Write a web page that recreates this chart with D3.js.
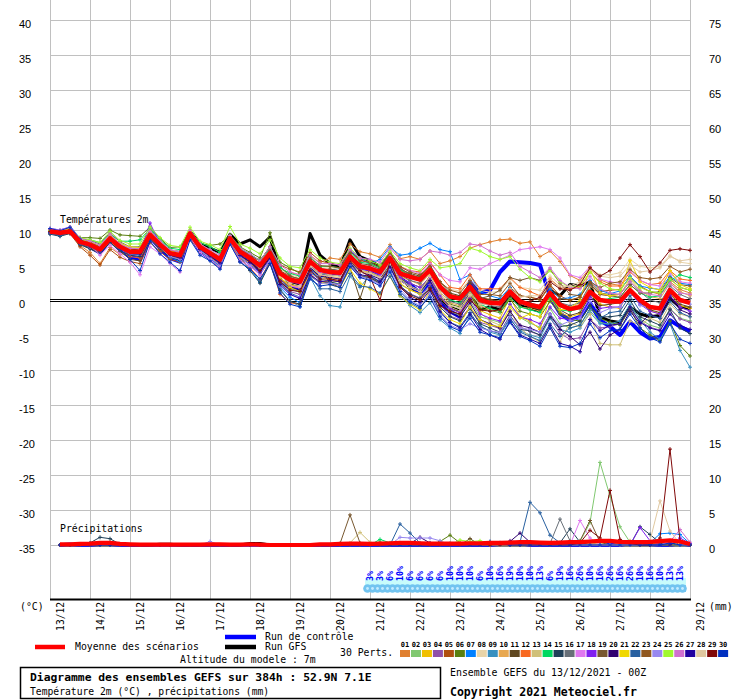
<!DOCTYPE html>
<html>
<head>
<meta charset="utf-8">
<script src="https://cdn.jsdelivr.net/npm/d3@7"></script>
<style>
    body { margin: 0; background: #ffffff; }
    svg { display: block; }
</style>
</head>
<body>
<div id="chart"></div>
<script>
const dayLabels = ["13/12", "14/12", "15/12", "16/12", "17/12", "18/12", "19/12", "20/12", "21/12",
    "22/12", "23/12", "24/12", "25/12", "26/12", "27/12", "28/12", "29/12"];
const tempTicks = [-35, -30, -25, -20, -15, -10, -5, 0, 5, 10, 15, 20, 25, 30, 35, 40];
const rainTicks = [0, 5, 10, 15, 20, 25, 30, 35, 40, 45, 50, 55, 60, 65, 70, 75];
const memberNames = ["01", "02", "03", "04", "05", "06", "07", "08", "09", "10", "11", "12", "13", "14", "15",
    "16", "17", "18", "19", "20", "21", "22", "23", "24", "25", "26", "27", "28", "29", "30"];
const memberColors = ["#e08030", "#80c870", "#f0c000", "#9050a8", "#b05010", "#5a8010", "#0080ff", "#e8d4a8",
    "#3890c0", "#e8a850", "#604820", "#f86820", "#d0c078", "#00d860", "#204058", "#687078", "#e078f0",
    "#8020f0", "#785830", "#300070", "#f0d800", "#2860a0", "#905820", "#9888f0", "#a0f830", "#d070d0",
    "#2000a0", "#e0c8a0", "#800808", "#0030c0"];
// snow probability, one label per 6h step from 21/12 00Z
const snowStart = 32;
const snowPct = [3, 3, 6, 10, 6, 6, 6, 6, 10, 10, 10, 6, 10, 16, 19, 10, 10, 13, 6, 19, 16, 26, 10, 16, 26, 16,
    26, 10, 16, 10, 13, 13];

// 2m temperature, 6-hourly, 0..384h
const t01 = [9.9,9.5,9.6,7.8, 6.8,5.2,7.5,6.5, 6.8,7.0,9.0,7.6, 6.0,5.9,9.2,7.0, 6.1,5.4,8.3,6.5, 6.4,5.5,7.2,4.4, 3.9,3.6,6.4,5.3, 6.0,5.8,8.0,6.9, 6.6,6.1,7.9,5.9, 6.2,5.8,7.0,5.2, 5.6,6.2,7.4,7.9, 8.3,8.6,8.7,8.1, 8.3,6.2,7.0,5.5, 3.5,2.8,4.6,2.9, 2.3,2.1,3.4,2.0, 1.2,0.8,2.6,1.5, 1.0];
const t02 = [9.7,9.4,9.9,8.5, 8.1,7.4,9.1,7.9, 7.1,6.8,9.6,8.0, 6.5,6.0,9.8,7.2, 6.2,5.1,8.9,6.2, 5.3,4.0,6.1,2.8, 1.6,1.1,4.6,3.0, 2.6,2.3,5.4,3.6, 3.1,2.4,5.3,2.2, 1.5,0.8,2.9,-0.1, -1.6,-2.2,-0.1,-2.4, -2.8,-3.2,-0.6,-2.5, -3.3,-3.9,-1.2,-3.4, -4.0,-3.6,-1.5,-3.2, -3.5,-3.4,-1.0,-2.7, -3.6,-4.0,-1.2,-2.6, -3.0];
const t03 = [9.9,9.8,10.2,8.6, 8.2,7.6,9.2,7.8, 7.0,7.2,9.6,8.2, 6.9,6.6,9.9,7.5, 6.4,5.3,8.4,6.4, 5.2,4.1,6.8,3.1, 2.2,1.8,4.9,3.4, 3.0,2.6,5.0,3.6, 3.2,2.6,5.4,2.4, 1.4,0.9,3.6,0.4, -1.2,-1.8,1.0,-1.5, -2.1,-2.6,0.4,-2.4, -3.0,-4.2,0.3,-1.8, -2.4,-2.0,0.9,-0.6, -1.0,-1.2,1.8,-0.3, -1.5,-2.0,1.0,-0.8, -1.2];
const t04 = [10.0,9.7,10.1,8.4, 7.6,6.8,8.4,7.2, 6.4,6.2,8.9,7.3, 6.2,5.8,9.0,7.0, 6.0,4.9,8.0,6.0, 5.0,3.6,5.8,2.6, 1.2,0.8,4.0,2.8, 2.4,2.1,4.9,3.4, 3.0,2.3,4.6,2.0, 0.9,0.3,2.2,-0.6, -2.3,-2.8,-1.0,-3.2, -3.6,-4.1,-1.6,-3.8, -4.5,-5.0,-2.5,-4.8, -5.6,-5.4,-2.8,-4.0, -3.8,-3.4,-1.4,-3.0, -3.9,-4.3,-1.3,-2.7, -3.2];
const t05 = [9.6,9.3,9.5,7.6, 6.4,5.0,7.2,6.1, 5.5,5.2,8.2,6.9, 5.8,5.4,8.7,6.9, 6.1,5.4,8.7,7.1, 6.5,5.6,7.6,5.0, 4.4,4.0,6.8,5.6, 5.2,5.0,7.0,5.8, 5.2,4.6,6.2,4.2, 3.6,3.2,4.1,2.2, 0.8,0.5,1.8,0.3, 0.1,-0.2,1.8,0.6, 0.4,0.1,2.2,0.6, -0.1,0.4,2.6,1.2, 1.4,1.5,3.2,1.9, 1.2,1.0,3.0,1.8, 1.4];
const t06 = [9.8,9.6,10.0,8.9, 8.9,8.8,10.0,9.3, 9.2,9.1,10.4,8.8, 7.5,7.6,9.8,8.1, 7.8,8.0,9.3,7.6, 6.8,6.0,9.6,5.4, 4.6,3.8,5.8,4.4, 4.0,3.6,5.6,4.0, 3.9,3.2,5.0,3.0, 2.4,1.8,3.2,0.8, -0.6,-1.0,0.8,-1.2, -1.5,-1.8,0.1,-1.6, -2.0,-2.4,-0.2,-2.0, -2.8,-3.0,-0.8,-2.6, -3.2,-3.6,-1.2,-4.0, -5.0,-5.8,-3.0,-6.5, -8.0];
const t07 = [9.5,9.2,9.6,8.2, 7.8,7.0,8.6,7.5, 6.6,6.4,9.0,7.4, 6.1,5.5,9.2,7.0, 5.8,4.8,8.4,6.0, 4.6,2.5,5.8,1.8, 0.4,-0.4,4.0,3.0, 4.2,4.6,7.0,6.0, 5.2,5.8,7.6,6.4, 6.6,7.4,8.1,7.2, 6.9,2.9,3.6,1.2, 0.6,0.2,1.8,0.0, -0.5,-0.9,1.6,0.2, 0.3,0.8,2.8,1.4, 0.9,1.3,3.4,2.0, 1.7,1.5,3.4,2.4, 2.2];
const t08 = [9.9,9.7,10.0,8.4, 8.0,7.5,9.0,7.8, 7.3,7.4,9.8,8.4, 7.2,6.9,10.0,8.0, 7.1,6.1,9.0,7.1, 6.3,5.3,7.0,4.4, 3.6,3.2,5.8,4.6, 4.6,4.4,6.6,5.0, 4.8,4.2,6.0,3.7, 3.4,3.0,4.6,2.4, 1.5,1.3,3.0,1.4, 1.1,1.2,3.0,1.8, 1.6,1.4,3.4,2.2, 1.8,2.3,4.6,3.6, 3.6,3.9,5.8,4.8, 4.6,4.8,6.4,5.4, 5.2];
const t09 = [9.7,9.4,9.8,8.2, 7.5,6.9,8.5,7.4, 6.6,6.5,9.0,7.6, 6.3,5.8,9.2,7.0, 6.0,4.8,8.2,5.8, 4.4,2.6,5.4,1.6, -0.2,-0.9,3.3,0.6, -0.8,-1.0,3.4,1.8, 3.6,2.6,4.2,0.6, -0.8,-1.8,-0.4,-2.8, -4.0,-4.8,-2.2,-3.6, -4.6,-5.0,-2.8,-4.4, -5.0,-5.4,-2.6,-4.2, -4.6,-4.0,-1.8,-3.4, -3.4,-3.0,-0.6,-2.8, -4.6,-5.6,-3.4,-7.2, -9.6];
const t10 = [10.1,9.9,10.1,8.6, 8.1,7.4,8.9,7.6, 7.0,6.9,9.4,7.9, 6.8,6.5,9.6,7.6, 6.6,5.5,8.7,6.6, 5.6,4.5,6.2,3.0, 2.0,1.7,4.8,3.6, 3.3,3.2,5.8,4.2, 4.0,3.4,5.8,3.3, 2.8,2.2,3.8,1.2, -0.4,-0.8,1.2,-0.8, -1.4,-1.6,0.4,-1.0, -1.2,-1.6,0.8,-0.8, -1.0,-0.6,2.0,0.8, 0.6,0.8,3.0,1.4, 0.5,0.2,2.4,1.2, 0.6];
const t11 = [9.6,9.3,9.8,8.0, 7.4,6.7,8.4,7.0, 5.8,5.6,8.8,7.2, 6.3,6.0,9.2,7.4, 6.8,6.0,9.0,7.2, 6.4,5.6,7.6,4.8, 3.4,3.0,5.8,4.6, 2.4,1.8,4.6,0.2, 4.6,4.2,6.6,4.4, 3.8,3.4,5.0,2.6, 1.0,0.6,2.4,0.4, 0.0,-0.2,1.6,-0.4, -1.0,-1.4,0.6,-1.4, -2.2,-1.8,0.6,-0.8, -0.6,-0.4,1.4,-0.4, -1.4,-1.8,0.8,-0.6, -1.0];
const t12 = [9.8,9.5,9.7,8.1, 7.6,6.8,8.4,7.1, 6.2,6.0,8.8,7.2, 6.4,6.0,9.1,7.3, 6.2,5.0,8.2,5.9, 4.6,3.0,5.4,0.8, -0.4,-0.6,3.8,2.4, 2.8,2.6,5.6,4.4, 4.6,4.2,6.4,4.8, 4.2,4.0,5.4,3.6, 1.8,1.6,3.6,1.6, 1.6,1.6,3.2,1.8, 1.2,0.6,3.0,1.8, 1.6,1.8,4.0,2.6, 2.0,2.0,4.0,2.8, 2.2,2.4,4.2,3.0, 2.8];
const t13 = [9.9,9.7,9.9,8.5, 8.2,7.7,9.2,8.0, 7.4,7.4,9.6,8.0, 6.6,6.3,9.4,7.6, 6.6,5.6,8.6,6.8, 5.8,4.4,6.6,3.6, 2.6,2.4,5.0,3.8, 3.6,3.4,5.8,4.2, 3.8,3.2,5.4,3.0, 2.0,1.4,3.0,0.6, -1.0,-1.6,0.6,-1.8, -3.0,-3.6,-1.6,-4.0, -5.2,-6.0,-4.0,-6.0, -3.2,-3.8,-2.0,-6.2, -6.4,-6.4,-3.0,-3.6, -2.6,-3.2,-0.6,-2.0, -2.4];
const t14 = [9.7,9.5,9.9,8.3, 8.6,8.2,9.4,8.4, 8.4,8.6,10.2,8.6, 7.4,7.2,9.8,8.2, 7.6,6.8,9.2,7.4, 6.6,5.6,7.4,4.6, 3.8,3.4,6.2,4.8, 4.8,4.6,6.8,5.4, 5.2,4.6,6.6,4.4, 3.4,2.8,4.2,1.8, 0.0,-0.4,1.4,-0.6, -1.2,-1.6,0.4,-1.0, -1.4,-1.8,0.4,-1.4, -1.6,-1.2,1.4,0.0, 0.2,0.4,2.2,1.0, 0.4,0.6,2.8,3.6, 3.2];
const t15 = [9.4,9.1,9.5,7.9, 7.3,6.6,8.2,7.0, 6.4,6.2,8.8,7.3, 6.1,5.7,9.0,6.9, 5.7,4.6,8.0,5.5, 4.2,2.4,5.2,1.4, -0.2,-0.6,3.5,2.4, 2.6,2.2,5.2,3.4, 3.2,2.4,4.6,2.0, 0.8,0.2,1.8,-1.0, -2.4,-3.0,-1.2,-3.4, -4.0,-4.6,-2.2,-4.2, -4.4,-5.0,-2.4,-3.8, -3.6,-3.0,-0.8,-2.4, -2.4,-2.2,0.0,-2.4, -3.0,-3.6,-1.4,-4.0, -4.8];
const t16 = [10.0,9.8,10.3,8.8, 8.5,8.0,9.6,8.3, 7.6,7.6,10.0,8.4, 7.0,6.8,9.9,7.9, 7.0,6.2,9.2,7.3, 6.4,5.2,7.2,4.2, 3.2,2.8,5.6,4.2, 4.2,4.0,6.4,4.8, 4.4,3.8,6.0,3.6, 2.8,2.4,4.0,1.6, -0.2,-0.6,1.4,-0.4, -0.8,-1.0,0.8,-0.6, -0.4,-0.8,1.2,-0.4, -0.8,-0.4,2.2,1.0, 0.8,0.8,2.6,1.2, 0.0,-0.4,2.0,0.8, 0.2];
const t17 = [10.2,10.0,10.4,8.7, 7.8,6.4,7.8,6.6, 5.4,3.6,7.6,6.6, 5.2,4.0,9.0,6.8, 5.8,4.6,8.0,5.6, 4.8,3.6,6.0,2.8, 2.0,1.8,5.2,4.0, 3.8,3.8,6.2,4.8, 4.8,4.4,6.4,4.6, 4.2,3.8,5.2,3.6, 2.8,2.6,4.6,4.4, 5.2,5.8,6.4,7.2, 7.4,7.6,7.2,6.0, 3.6,3.2,4.8,3.0, 2.6,2.4,4.2,2.8, 2.2,2.0,3.8,2.6, 2.4];
const t18 = [9.8,9.6,10.0,8.4, 7.9,7.3,8.8,7.6, 6.8,6.8,11.0,8.0, 6.6,6.2,9.6,7.4, 6.5,5.5,8.6,6.7, 5.8,4.7,6.6,3.6, 2.6,2.3,5.4,4.1, 3.8,3.6,6.0,4.5, 4.2,3.6,5.6,3.2, 2.4,1.8,3.2,0.6, -1.2,-1.8,0.2,-2.0, -2.6,-3.0,-0.6,-2.4, -2.8,-3.4,-1.0,-2.6, -2.8,-2.4,0.4,-1.2, -1.0,-1.0,1.2,-0.6, -1.6,-2.0,0.6,-1.0, -1.6];
const t19 = [9.9,9.7,9.9,8.3, 7.9,7.2,8.7,7.5, 6.9,6.7,9.2,7.7, 6.6,6.3,9.3,7.4, 6.7,5.9,8.8,7.0, 6.2,5.0,6.8,3.8, 2.8,2.6,5.6,4.4, 4.4,4.2,6.6,5.2, 5.0,4.4,6.8,4.6, 3.6,3.2,4.4,2.0, 0.6,0.2,2.0,0.2, 0.6,1.4,3.2,2.8, 3.2,2.8,4.4,2.4, 0.8,0.6,2.4,0.8, 0.6,0.4,2.2,1.0, 1.0,1.2,3.2,2.2, 2.0];
const t20 = [9.6,9.4,9.7,8.0, 7.7,7.0,8.6,7.4, 6.6,6.5,9.1,7.6, 6.4,6.0,9.3,7.2, 6.3,5.2,8.5,6.4, 5.4,4.2,6.2,3.0, 1.8,1.4,4.6,3.4, 3.2,3.0,5.6,4.0, 3.6,3.0,5.2,2.8, 1.8,1.2,2.8,0.0, -1.8,-2.4,-0.4,-2.8, -3.4,-4.0,-1.6,-3.6, -4.0,-4.6,-2.0,-4.2, -5.2,-6.4,-4.6,-7.0, -5.0,-4.2,-1.6,-3.4, -2.0,-2.6,0.4,-1.4, -2.0];
const t21 = [10.0,9.8,10.2,8.6, 8.3,7.8,9.3,8.1, 7.6,7.5,9.8,8.2, 7.0,6.7,9.8,7.9, 6.9,6.0,8.9,7.0, 6.0,4.8,6.4,3.2, 1.8,1.2,3.6,2.6, 2.2,1.8,4.4,2.4, 1.6,0.8,3.4,0.6, -0.6,-1.4,1.4,-1.4, -2.8,-3.4,-1.0,-2.8, -3.6,-3.8,-1.0,-2.6, -2.0,-2.4,0.8,-1.4, -1.2,0.0,4.6,1.0, 0.6,0.8,5.6,2.6, 1.8,1.4,4.2,2.2, 1.6];
const t22 = [9.5,9.2,9.6,8.0, 7.6,6.9,8.6,7.4, 6.7,6.6,9.2,7.7, 6.5,6.1,9.5,7.4, 6.4,5.4,8.6,6.6, 5.6,4.4,6.2,2.4, 1.0,0.4,3.4,1.6, 1.6,1.2,3.8,2.0, 1.8,1.0,3.4,0.8, -0.4,-1.2,0.8,-1.8, -3.2,-3.8,-1.8,-3.8, -4.4,-4.8,-2.6,-4.6, -5.2,-5.8,-3.4,-5.2, -4.0,-3.6,-1.2,-2.6, -1.8,-1.6,0.6,-1.6, -2.2,-2.6,-0.2,-1.8, -2.4];
const t23 = [10.0,9.7,10.0,8.5, 8.2,7.6,9.0,7.8, 7.2,7.1,9.5,8.1, 6.8,6.5,9.5,7.7, 6.8,6.0,9.0,7.1, 6.3,5.2,7.1,4.2, 3.4,3.0,6.0,4.9, 4.8,4.6,7.0,5.6, 5.4,4.8,6.8,4.8, 4.0,3.6,4.8,2.6, 1.4,1.0,2.8,0.8, 0.8,0.6,2.4,0.6, 0.4,0.0,2.0,0.2, 0.0,0.4,2.6,1.8, 2.4,2.6,4.4,3.2, 3.0,3.2,4.8,4.0, 4.4];
const t24 = [9.7,9.5,9.8,8.2, 7.6,7.0,8.6,7.4, 6.6,6.6,9.2,7.6, 6.2,5.8,9.4,7.1, 6.0,5.0,8.4,6.2, 5.0,3.8,5.6,2.0, 0.8,0.4,3.6,2.4, 2.4,2.2,5.0,3.4, 3.0,2.2,4.4,1.6, 0.0,-0.8,0.8,-2.2, -3.6,-4.2,-3.4,-4.0, -4.4,-4.6,-2.4,-4.0, -4.2,-4.6,-2.0,-3.6, -3.0,-2.6,-0.2,-1.8, -1.2,-1.0,1.2,-0.8, -1.0,-1.4,1.2,-0.2, -0.6];
const t25 = [9.9,9.8,10.3,8.9, 8.6,8.2,9.8,8.5, 8.0,8.0,10.4,8.9, 7.8,7.6,10.4,8.4, 7.9,7.2,10.5,8.0, 7.4,6.6,8.6,6.0, 4.8,4.6,7.2,6.0, 5.4,5.2,7.4,6.0, 5.6,5.0,7.0,5.2, 4.6,4.2,5.8,4.6, 4.8,5.2,7.4,7.0, 6.2,5.8,6.2,4.4, 3.2,2.6,4.2,2.6, 1.8,2.0,4.0,2.4, 1.6,1.4,3.2,1.8, 1.2,1.0,3.0,1.8, 1.4];
const t26 = [10.1,9.9,10.4,8.8, 8.4,7.8,9.4,8.0, 7.4,7.3,9.8,8.4, 7.2,6.8,9.9,8.0, 7.2,6.4,9.2,7.4, 6.6,5.6,7.6,5.0, 4.0,3.6,6.4,5.2, 5.2,5.0,7.2,6.0, 5.8,5.4,7.4,5.8, 5.6,5.8,7.0,6.8, 6.4,6.8,8.0,7.8, 7.0,6.4,6.8,4.8, 4.0,3.2,4.6,2.8, 1.8,1.6,3.4,1.6, 1.0,0.8,2.6,1.2, 0.8,0.6,2.4,1.0, 0.8];
const t27 = [9.7,9.5,10.0,8.4, 7.7,7.1,8.8,7.6, 6.8,6.6,9.3,7.7, 6.5,6.1,9.5,7.3, 6.3,5.3,8.6,6.4, 5.4,4.0,6.0,2.2, 0.8,0.2,3.6,2.6, 2.8,2.6,5.4,3.6, 3.4,2.6,4.8,2.0, 0.4,-0.4,1.4,-1.6, -3.2,-4.0,-2.0,-4.2, -5.0,-5.6,-3.0,-5.0, -5.6,-6.2,-3.6,-6.2, -6.6,-7.4,-2.8,-4.4, -3.6,-3.4,-1.0,-3.2, -4.0,-4.4,-2.0,-3.6, -4.2];
const t28 = [9.8,9.6,9.8,8.3, 8.0,7.4,8.9,7.7, 7.0,6.9,9.3,7.9, 6.7,6.4,9.4,7.6, 6.6,5.7,8.6,6.7, 5.8,4.6,6.4,3.4, 2.4,2.0,4.8,3.6, 3.4,3.2,5.6,4.0, 3.8,3.2,5.2,2.8, 1.8,1.2,3.4,1.0, -0.8,-1.2,0.8,-0.6, -0.6,-0.4,1.6,0.4, 0.6,0.6,2.8,1.8, 2.0,2.6,4.4,3.4, 3.2,3.4,5.0,4.0, 4.2,4.6,6.2,5.6, 5.8];
const t29 = [9.8,9.5,9.8,8.2, 7.8,7.2,8.8,7.6, 6.8,6.7,9.2,7.7, 6.6,6.2,9.4,7.4, 6.5,5.6,8.7,6.7, 5.6,4.2,6.2,2.6, 1.4,1.2,4.2,3.0, 3.0,2.8,5.6,4.2, 3.3,0.0,5.6,1.8, 0.6,0.0,1.6,-0.8, -1.6,-2.0,0.0,-1.4, -1.6,-1.4,0.6,-0.6, -0.2,0.4,2.6,1.6, 1.4,2.2,4.6,3.4, 4.2,6.0,7.9,6.2, 4.0,5.3,7.1,7.3, 7.1];
const t30 = [10.2,9.9,10.4,8.7, 7.8,6.9,8.5,7.3, 5.8,4.2,8.4,6.6, 5.4,4.2,8.6,6.4, 5.6,4.4,8.0,5.4, 4.4,3.0,5.2,1.0, -0.6,-1.0,3.0,2.0, 2.2,1.8,4.8,3.2, 2.8,2.0,4.0,1.2, -0.2,-1.0,0.4,-2.4, -3.8,-4.4,-2.6,-4.6, -5.0,-5.4,-3.2,-5.2, -5.8,-6.6,-4.0,-6.6, -6.8,-6.2,-3.4,-5.4, -4.4,-4.2,-2.0,-4.0, -5.4,-6.0,-3.4,-5.6, -6.2];
const tempControl = [10.0,9.8,10.2,8.4, 7.6,6.8,8.6,7.2, 6.2,5.8,9.0,7.4, 6.0,5.5,9.4,7.0, 6.0,5.4,8.6,6.4, 5.4,4.2,6.2,2.8, 1.8,1.4,4.6,3.6, 3.8,3.8,6.0,4.6, 4.4,3.6,5.6,3.0, 2.2,1.0,2.6,-0.4, -1.6,-2.4,2.6,1.0, 1.4,4.0,5.5,5.4, 5.3,5.0,0.5,-1.9, -2.9,-2.4,-0.4,-2.9, -3.8,-5.0,-3.1,-4.6, -5.5,-5.3,-2.9,-3.8, -4.5];
const tempGfs = [10.0,9.8,10.0,8.4, 8.0,7.4,9.0,7.8, 7.2,7.2,9.6,8.2, 7.0,6.8,9.8,8.0, 7.4,6.8,9.4,8.0, 8.6,7.6,9.0,4.0, 2.4,2.2,9.5,6.4, 5.2,4.6,8.6,6.2, 5.6,4.8,6.6,3.4, 1.8,1.0,3.2,0.2, -1.0,-1.6,0.8,-1.4, -1.0,-1.4,0.6,-0.8, -1.2,-1.6,1.4,0.6, 2.2,2.0,2.6,-2.4, -3.0,-3.2,-1.0,-2.0, -2.4,-2.2,0.2,-1.0, -1.2];
const tempMean = [9.8,9.6,9.8,8.3, 7.9,7.2,8.8,7.6, 6.9,6.9,9.3,7.9, 6.7,6.4,9.5,7.6, 6.7,5.8,8.8,6.9, 6.0,4.9,6.7,3.8, 2.9,2.6,5.5,4.3, 4.0,3.9,6.2,4.8, 4.5,4.0,6.0,3.8, 3.3,2.9,4.3,1.9, 0.5,0.2,1.9,0.0, -0.4,-0.5,1.2,-0.2, -0.7,-1.0,1.0,-0.7, -1.3,-1.0,1.2,0.0, -0.2,-0.2,1.4,0.0, -1.0,-1.2,1.4,0.0, -0.4];

// 6h precipitation (mm), 6h..384h
const p01 = [0,0,0,0,0.2,0.1,0,0, 0,0,0,0,0,0,0,0, 0,0,0,0,0,0,0,0, 0,0,0,0,0,0,0,0, 0,0,0,0,0,0,0,0, 0.2,0,0,0,0,0,0,0, 0,0,0,0,0,0,0,0, 0.3,0.6,0.2,0,0,0,0,0];
const p02 = [0,0,0,0,0.1,0.2,0,0, 0,0,0,0,0,0,0,0, 0,0,0,0,0,0,0,0, 0,0,0,0,0,0,0,0, 0,0,0,0.2,0,0,0,0, 0,0,0.3,0.4,0.2,0,0,0, 0,0,0,0,0.5,3.2,11.8,7.0, 2.6,0.4,0,0,0,0,0,0];
const p03 = [0,0,0,0,0.2,0,0,0, 0,0,0,0,0,0,0,0, 0,0,0,0,0,0,0,0, 0,0,0,0,0,0,0,0, 0,0,0,0,0,0,0.3,0.2, 0.2,0,0,0,0,0,0,0, 0,0,0,0,0,0.4,0.2,0, 0,0,0,0.3,0.5,0,0,0];
const p04 = [0,0,0,0.2,0.1,0,0,0, 0,0,0,0,0,0,0,0, 0,0,0,0,0,0,0,0, 0,0,0,0,0,0,0,0, 0,0,0,0,0,0,0,0, 0,0,0,0,0,0.6,0.4,0.2, 0,0,0,0,0,0,0,0, 0,0,0,0,0,0.3,0.4,0];
const p05 = [0,0,0,0,0,0,0,0, 0,0,0,0,0,0,0,0, 0,0,0,0,0,0,0,0, 0,0,0,0,0,0,0,0, 0,0,0,0,0,0,0.2,0, 0,0,0,0,0,0,0,0, 0,0,0,0.4,0,0,0,0, 0,0,0.3,0,0,0,0,0];
const p06 = [0,0,0,0,0,0,0,0, 0,0,0,0,0,0,0,0, 0,0,0,0,0,0,0,0, 0,0,0,0,0,0,0,0, 0.4,0,0,0,0,0,0.5,1.4, 0.3,0,0,0,0,0,0,0, 0,0,0,0,0,0,0.3,0, 0,0,0,0,0,0,0.2,0];
const p07 = [0,0,0,0,0,0,0,0, 0,0,0,0,0,0,0,0, 0,0,0,0,0,0,0,0, 0,0,0,0,0,0,0,0, 0,0,0,0,0,0.2,0.3,0.2, 0,0,0.2,0,0,0,0,0, 0,0,0,0,0,0,0,0, 0,0,0,0.3,1.6,1.7,1.5,0.2];
const p08 = [0,0,0,0,0,0,0,0, 0,0,0,0,0,0,0,0, 0,0,0,0,0,0,0,0, 0,0,0,0,0,0,0,0, 0,0,0,0,0,0,0,0, 0,0,0,0,0,0,0,0, 0,0,0,0,0,0,0.3,0, 0,0,0,0,0,0.4,0,0];
const p09 = [0,0,0,0,0,0,0,0, 0,0,0,0,0,0,0,0, 0,0,0,0,0,0,0,0, 0,0,0,0,0,0,0,0, 0,0,0,0,0,0,0,0, 0,0,0,0,0,0,0.3,0.2, 0.2,0,0,0,0,0,0,0, 0,0,0,0,0,0,0.4,0];
const p10 = [0,0,0,0,0,0,0,0, 0,0,0,0,0,0,0,0, 0,0,0,0,0,0,0,0, 0,0,0,0,0,0,0,0, 0,0,0,0,0,0,0.2,0, 0,0,0,0,0,0,0,0, 0,0,0,0,0,0,0,0, 0,0,0,0,0,0,0.3,0];
const p11 = [0,0,0,0,0,0,0,0, 0,0,0,0,0,0,0,0, 0,0,0,0,0,0,0,0, 0,0,0,0,0,0,0,0, 0,0,0,0,0,0,0,0, 0,0.9,0,0,0,0,0.3,0, 0,0,0,0,0,0,0,0, 0,0,0,0,0,0,0,0];
const p12 = [0,0,0,0,0,0,0,0, 0,0,0,0,0,0,0,0, 0,0,0,0,0,0,0,0, 0,0,0,0,0,0,0,0, 0,0,0,0,0,0,0,0, 0,0,0,0,0,0,0,0, 0,0,0,0,0.2,0,0,0, 0,0,0,0,0.3,0,0,0];
const p13 = [0,0,0,0,0,0.4,0,0, 0,0,0,0,0,0,0,0, 0,0,0,0,0,0,0,0, 0,0,0,0,0,0.3,1.8,0.4, 0,0,0,0,0,0,0,0, 0,0,0,0,0,0,0,0, 0,0,0,0,0,0.3,0,0, 0,0,0,0,0,0,0,0];
const p14 = [0,0,0,0,0,0,0,0, 0,0,0,0,0,0,0,0, 0,0,0,0,0,0,0,0, 0,0,0,0,0,0,0,0, 0.8,0.3,0.2,0.2,0,0,0,0, 0,0,0,0,0,0,0,0, 0,0,0,0,0,0,0,0, 0,0,0,0,0,0,0,0];
const p15 = [0,0,0,0.3,1.1,0.9,0.1,0, 0,0,0,0,0,0,0,0, 0,0,0,0,0,0,0,0, 0,0,0,0,0,0,0,0, 0,0,0,0,0,0,0,0, 0,0,0,0,0,0,0,0, 0,0,0.3,2.3,0.4,0,0,0, 0,0,2.6,1.5,0.3,0,0,0];
const p16 = [0,0,0,0,0,0,0,0, 0,0,0,0,0,0,0,0, 0,0,0,0,0,0,0,0, 0,0,0,0,0,0,0,0, 0,0,0,0,0,0,0,0, 0,0,0,0,0,0,0,0, 0,0.2,3.7,0.6,0,0,0,0, 0,0,0,0,0,0,0,0];
const p17 = [0,0,0,0,0,0,0,0, 0,0,0,0,0,0,0,0, 0,0,0,0,0,0,0,0, 0,0,0,0,0,0,0,0, 0,0,0,0,0,0,0,0, 0,0,0,0,0,0,0,0.3, 0,0,0,0,3.5,1.0,0,0, 0,0,0,0,0,0,0,0];
const p18 = [0,0,0,0,0,0,0,0, 0,0,0,0,0,0,0,0, 0,0,0,0,0,0,0,0, 0,0,0,0,0,0,0,0, 0,0,0,0,0,0,0,0, 0,0,0,0,0.3,0,0,0, 0,0,0,0,0,0,0,0, 0,0,2.5,0.6,0,0,1.0,0.2];
const p19 = [0,0,0,0,0,0,0,0, 0,0,0,0,0,0,0,0, 0,0,0,0,0,0,0,0, 0,0,0,0,0.2,4.3,0.3,0, 0,0,0,0,0,0,0,0, 0,0,0,0,0,0,0,0, 0,0,0,0,0.6,3.5,0.4,0, 0,0,0,0,0,0,0,0];
const p20 = [0,0,0,0,0,0,0,0, 0,0,0,0,0,0,0,0, 0,0,0,0,0,0,0,0, 0,0,0,0,0,0,0,0, 0,0,0.3,0.2,1.1,0.3,0,0, 0,0,0,0,0.3,0.5,1.7,0.4, 0,0,0,0,0,0,0,0, 0,0,0,0,0,0,0,0];
const p21 = [0,0,0,0,0,0,0,0, 0,0,0,0,0,0,0,0, 0,0,0,0,0,0,0,0, 0,0,0,0,0,0,0,0, 0,0,0,0,0,0,0,0, 0,0,0,0.2,0,0,0,0, 0,0,0,0,0,0,0,0, 0,0,0,0.3,0,0,0,0];
const p22 = [0,0,0,0,0,0,0,0, 0,0,0,0,0,0,0,0, 0,0,0,0,0,0,0,0, 0,0,0,0,0,0,0,0, 0,0,3.0,1.7,0.3,0,0,0, 0,0,0,0,0,0,0.4,6.1, 4.6,1.4,0.3,0,0,0,0,0, 0,0,0,0,0,0,0,0];
const p23 = [0,0,0,0,0,0,0,0, 0,0,0,0,0,0,0,0, 0,0,0,0,0,0,0,0, 0,0,0,0,0,0,0,0, 0,0,0,0,0,0,0,0, 0,0,0,0,0,0,0,0, 0,0,0,0,0,0,0,0, 0,0,0,0,0,0,0.3,0];
const p24 = [0,0,0,0,0,0,0,0, 0,0,0,0,0,0,0,0.5, 0,0,0,0,0,0,0,0, 0,0,0,0,0,0,0,0, 0,0,1.1,1.0,1.0,1.0,0.6,0, 0,0,0,0,0,0,0,0, 0,0,0,0,0,0,0,0, 0,0,0,0,0,0.4,0,0];
const p25 = [0,0,0,0,0,0,0,0, 0,0,0,0,0,0,0,0, 0,0,0,0,0,0,0,0, 0,0,0,0,0,0,0,0, 0,0,0,0,0,0,0,0, 0.7,0.5,0.6,0.3,0,0,0,0, 0,0,0,0,0,0,0,0, 0,0,0,0,0,0,0.5,0];
const p26 = [0,0,0,0,0,0,0,0, 0,0,0,0,0,0,0,0, 0,0,0,0,0,0,0,0, 0,0,0,0,0,0,0,0, 0,0,0,0,0,0,0,0, 0,0,0,0,0,0,0,0, 0,0,0,0,0,0,0,0, 0,0,0,0,0,0.5,2.2,0.4];
const p27 = [0,0,0,0,0,0,0,0, 0,0,0,0,0,0,0,0, 0,0,0,0,0,0,0,0, 0,0,0,0,0,0,0,0, 0,0,0,0,0,0,0,0, 0,0,0,0,0.2,0,0,0, 0,0,0,0,0,0,0,0, 0,0,0,0,0,0,0.6,0];
const p28 = [0,0,0,0,0,0,0,0, 0,0,0,0,0,0,0,0, 0,0,0,0,0,0,0,0, 0,0,0,0,0,0,0,0, 0,0,0,0,0,0,0,0, 0,0,0,0,0,0,0,0, 0,0,0,0,0,0,0,0, 0,0,0,0.6,6.3,2.0,0.2,0];
const p29 = [0,0,0,0,0,0,0,0, 0,0,0,0,0,0,0,0, 0,0,0,0,0,0,0,0, 0,0,0,0,0,0,0,0, 0,0,0,0,0,0,0,0, 0,0,0,0,0,0,0,0, 0,0,0,0,0.3,2.1,1.0,7.8, 0.8,0.2,0,0,1.0,13.7,0.6,0];
const p30 = [0,0,0,0,0,0,0,0, 0,0,0,0,0,0,0,0, 0,0,0,0,0,0,0,0, 0,0,0,0,0,0,0,0, 0,0,0,0,0,0,0,0, 0,0,0,0.5,0.2,0,0,0, 0,0,0,0,0,0,0,0, 0,0,0,0,0,0.3,0,0];
const rainControl = [0,0.1,0,0,0.1,0.1,0,0, 0,0,0,0,0,0,0,0, 0,0,0,0,0,0,0,0, 0,0,0,0,0,0,0,0, 0,0,0,0,0,0,0,0, 0,0,0,0,0.1,0.2,0.2,0, 0,0,0,0,0,0,0,0, 0,0.2,0.2,0.1,0,0,0.2,0];
const rainGfs = [0,0,0,0,0,0,0,0, 0,0,0.1,0.1,0,0,0,0, 0,0,0,0.2,0.2,0,0,0, 0,0,0,0,0,0,0,0, 0,0,0,0,0,0,0,0, 0,0,0,0,0,0,0,0, 0,0,0,0,0,0,0,0, 0,0,0,0,0,0,0,0];
const rainMean = [0.1,0.1,0.15,0.2,0.3,0.3,0.15,0.1, 0.05,0.05,0.05,0.05,0.05,0.05,0.05,0.1, 0.1,0.05,0.05,0.1,0.05,0,0,0, 0,0,0.1,0.1,0.15,0.2,0.2,0.15, 0.2,0.25,0.3,0.3,0.25,0.2,0.2,0.2, 0.2,0.25,0.25,0.3,0.3,0.35,0.4,0.4, 0.35,0.3,0.35,0.4,0.4,0.5,0.6,0.6, 0.45,0.4,0.4,0.45,0.55,0.65,0.5,0.15];

const tempMembers = [t01, t02, t03, t04, t05, t06, t07, t08, t09, t10, t11, t12, t13, t14, t15,
    t16, t17, t18, t19, t20, t21, t22, t23, t24, t25, t26, t27, t28, t29, t30];
const rainMembers = [p01, p02, p03, p04, p05, p06, p07, p08, p09, p10, p11, p12, p13, p14, p15,
    p16, p17, p18, p19, p20, p21, p22, p23, p24, p25, p26, p27, p28, p29, p30];

const MONO = "'DejaVu Sans Mono', monospace";

class EnsemblePlume {
    constructor(_config) {
        this.config = _config;
        this.initVis();
    }

    initVis() {
        const vis = this;

        vis.config.width = 740;
        vis.config.height = 700;
        vis.config.plot = {left: 50, right: 690, bottom: 599};

        vis.svg = d3.select(vis.config.parentElement)
            .append("svg")
            .attr("width", vis.config.width)
            .attr("height", vis.config.height);

        // one step = 6h, 64 steps = 384h
        vis.x = d3.scaleLinear().domain([0, 64]).range([vis.config.plot.left, vis.config.plot.right]);
        vis.yTemp = d3.scaleLinear().domain([-35, 40]).range([545, 20]);
        vis.yRain = d3.scaleLinear().domain([0, 75]).range([545, 20]);

        vis.drawFrame();
        vis.updateVis();
        vis.drawLegend();
    }

    drawFrame() {
        const vis = this;
        const p = vis.config.plot;
        const dayTicks = dayLabels.map((d, i) => i * 4);

        vis.svg.append("g")
            .attr("transform", `translate(0,${p.bottom})`)
            .call(d3.axisBottom(vis.x).tickValues(dayTicks).tickSize(-p.bottom).tickFormat(""))
            .call(g => g.select(".domain").remove())
            .call(g => g.selectAll("line").attr("stroke", "#c0c0c0"));

        vis.svg.append("g")
            .attr("transform", `translate(${p.left},0)`)
            .call(d3.axisLeft(vis.yTemp).tickValues(tempTicks.filter(t => t !== 0))
                .tickSize(-(p.right - p.left)).tickFormat(""))
            .call(g => g.select(".domain").remove())
            .call(g => g.selectAll("line").attr("stroke", "#c0c0c0"));

        // double zero line
        [-0.5, 1.5].forEach(off => {
            vis.svg.append("line")
                .attr("x1", p.left).attr("x2", p.right)
                .attr("y1", vis.yTemp(0) + off).attr("y2", vis.yTemp(0) + off)
                .attr("stroke", "#000").attr("stroke-width", 1);
        });

        vis.svg.append("line")
            .attr("x1", p.left).attr("x2", p.right + 1)
            .attr("y1", p.bottom + 0.5).attr("y2", p.bottom + 0.5)
            .attr("stroke", "#000").attr("stroke-width", 2);

        vis.svg.append("g")
            .attr("transform", "translate(19,0)")
            .call(d3.axisLeft(vis.yTemp).tickValues(tempTicks).tickSize(0).tickFormat(d => String(d)))
            .attr("font-family", "'Liberation Sans', Arial, sans-serif")
            .attr("font-size", 11)
            .call(g => g.select(".domain").remove())
            .call(g => g.selectAll("text")
                .attr("x", 0).attr("dy", null).attr("y", 7)
                .attr("text-anchor", "start").attr("fill", "#000"));

        vis.svg.append("g")
            .attr("transform", "translate(709,0)")
            .call(d3.axisRight(vis.yRain).tickValues(rainTicks).tickSize(0).tickFormat(d => String(d)))
            .attr("font-family", "'Liberation Sans', Arial, sans-serif")
            .attr("font-size", 11)
            .call(g => g.select(".domain").remove())
            .call(g => g.selectAll("text")
                .attr("x", 0).attr("dy", null).attr("y", 7)
                .attr("text-anchor", "start").attr("fill", "#000"));

        vis.svg.append("g")
            .attr("transform", "translate(0,602)")
            .call(d3.axisBottom(vis.x).tickValues(dayTicks).tickSize(0).tickFormat((d, i) => dayLabels[i]))
            .attr("font-family", MONO)
            .attr("font-size", 9.6)
            .call(g => g.select(".domain").remove())
            .call(g => g.selectAll("text")
                .attr("transform", "rotate(-90)")
                .attr("text-anchor", "end")
                .attr("x", 0).attr("y", 13).attr("dy", null)
                .attr("fill", "#000"));

        vis.svg.append("text").attr("x", 20).attr("y", 610)
            .attr("font-family", MONO).attr("font-size", 9.8).text("(°C)");
        vis.svg.append("text").attr("x", 709).attr("y", 610)
            .attr("font-family", MONO).attr("font-size", 9.8).text("(mm)");

        vis.svg.append("text").attr("x", 60).attr("y", 223)
            .attr("font-family", MONO).attr("font-size", 9.8).text("Températures 2m");
        vis.svg.append("text").attr("x", 60).attr("y", 532)
            .attr("font-family", MONO).attr("font-size", 9.8).text("Précipitations");

        // snow strip
        const x0 = vis.x(snowStart) - 5;
        const x1 = vis.x(snowStart + snowPct.length - 1) + 6;
        const strip = vis.svg.append("g");
        strip.append("rect")
            .attr("x", x0).attr("y", 578).attr("width", x1 - x0).attr("height", 7)
            .attr("fill", "#c8fcfc");
        strip.append("rect")
            .attr("x", x0).attr("y", 585).attr("width", x1 - x0).attr("height", 7)
            .attr("fill", "#7ccaf2");
        const blobs = d3.range(x0 + 2.5, x1, 5);
        strip.selectAll("circle.blob")
            .data(blobs)
            .join("circle")
            .attr("class", "blob")
            .attr("cx", d => d).attr("cy", 588.5).attr("r", 4.3)
            .attr("fill", "#72c4f0");
        strip.selectAll("circle.flake")
            .data(blobs)
            .join("circle")
            .attr("class", "flake")
            .attr("cx", d => d).attr("cy", 588.5).attr("r", 1.4)
            .attr("fill", "#c4ecff");

        vis.svg.append("g")
            .selectAll("text")
            .data(snowPct)
            .join("text")
            .attr("transform", (d, i) => `translate(${vis.x(snowStart + i) + 3},581) rotate(-90)`)
            .attr("font-family", MONO)
            .attr("font-size", 8.4)
            .attr("font-weight", "bold")
            .attr("fill", "#0000ff")
            .text(d => d + "%");
    }

    crosses(points) {
        return points.map(([px, py]) => `M${px - 2},${py}H${px + 2}M${px},${py - 2}V${py + 2}`).join("");
    }

    updateVis() {
        const vis = this;

        const tempLine = d3.line().x((d, i) => vis.x(i)).y(d => vis.yTemp(d));
        const rainLine = d3.line().x((d, i) => vis.x(i + 1)).y(d => vis.yRain(d));

        const drawMembers = (series, line, yScale, offset) => {
            const g = vis.svg.append("g");
            series.forEach((values, k) => {
                g.append("path")
                    .attr("d", line(values))
                    .attr("fill", "none")
                    .attr("stroke", memberColors[k])
                    .attr("stroke-width", 1);
                g.append("path")
                    .attr("d", vis.crosses(values.map((v, i) => [vis.x(i + offset), yScale(v)])))
                    .attr("stroke", memberColors[k])
                    .attr("stroke-width", 1);
            });
        };

        const drawThick = (values, line, color, width) => {
            vis.svg.append("path")
                .attr("d", line(values))
                .attr("fill", "none")
                .attr("stroke", color)
                .attr("stroke-width", width)
                .attr("stroke-linejoin", "round");
        };

        // control and GFS sit under the members, the mean on top
        drawThick(tempGfs, tempLine, "#000000", 3);
        drawThick(tempControl, tempLine, "#0000ff", 4);
        drawMembers(tempMembers, tempLine, vis.yTemp, 0);
        drawThick(tempMean, tempLine, "#ff0000", 4.5);

        drawThick(rainGfs, rainLine, "#000000", 3);
        drawThick(rainControl, rainLine, "#0000ff", 3.5);
        drawMembers(rainMembers, rainLine, vis.yRain, 1);
        drawThick(rainMean, rainLine, "#ff0000", 4.2);
    }

    drawLegend() {
        const vis = this;
        const txt = (x, y, s, size, bold) => vis.svg.append("text")
            .attr("x", x).attr("y", y)
            .attr("font-family", MONO)
            .attr("font-size", size)
            .attr("font-weight", bold ? "bold" : "normal")
            .attr("fill", "#000")
            .text(s);

        vis.svg.append("line").attr("x1", 35).attr("x2", 65).attr("y1", 647).attr("y2", 647)
            .attr("stroke", "#ff0000").attr("stroke-width", 4.5);
        txt(75, 650, "Moyenne des scénarios", 9.8);

        vis.svg.append("line").attr("x1", 225).attr("x2", 256).attr("y1", 637).attr("y2", 637)
            .attr("stroke", "#0000ff").attr("stroke-width", 4.5);
        vis.svg.append("line").attr("x1", 225).attr("x2", 256).attr("y1", 647).attr("y2", 647)
            .attr("stroke", "#000000").attr("stroke-width", 4.5);
        txt(265, 640, "Run de contrôle", 9.8);
        txt(265, 650, "Run GFS", 9.8);
        txt(340, 656, "30 Perts.", 9.8);
        txt(180, 663, "Altitude du modele : 7m", 9.8);

        const keys = vis.svg.append("g");
        keys.selectAll("rect")
            .data(memberNames)
            .join("rect")
            .attr("x", (d, i) => 400 + i * 10.97)
            .attr("y", 650)
            .attr("width", 10)
            .attr("height", 7)
            .attr("fill", (d, i) => memberColors[i]);
        keys.selectAll("text")
            .data(memberNames)
            .join("text")
            .attr("x", (d, i) => 405 + i * 10.97)
            .attr("y", 646.5)
            .attr("text-anchor", "middle")
            .attr("font-family", MONO)
            .attr("font-size", 7)
            .attr("font-weight", "bold")
            .text(d => d);

        vis.svg.append("rect")
            .attr("x", 20.5).attr("y", 667.5).attr("width", 420).attr("height", 31)
            .attr("fill", "none").attr("stroke", "#000").attr("stroke-width", 1.5);
        txt(30, 681, "Diagramme des ensembles GEFS sur 384h : 52.9N 7.1E", 11.35, true);
        txt(30, 695, "Température 2m (°C) , précipitations (mm)", 9.7);

        txt(450, 676, "Ensemble GEFS du 13/12/2021 - 00Z", 9.9);
        txt(450, 696, "Copyright 2021 Meteociel.fr", 11.5, true);
    }
}

const chart = new EnsemblePlume({parentElement: "#chart"});
</script>
</body>
</html>
